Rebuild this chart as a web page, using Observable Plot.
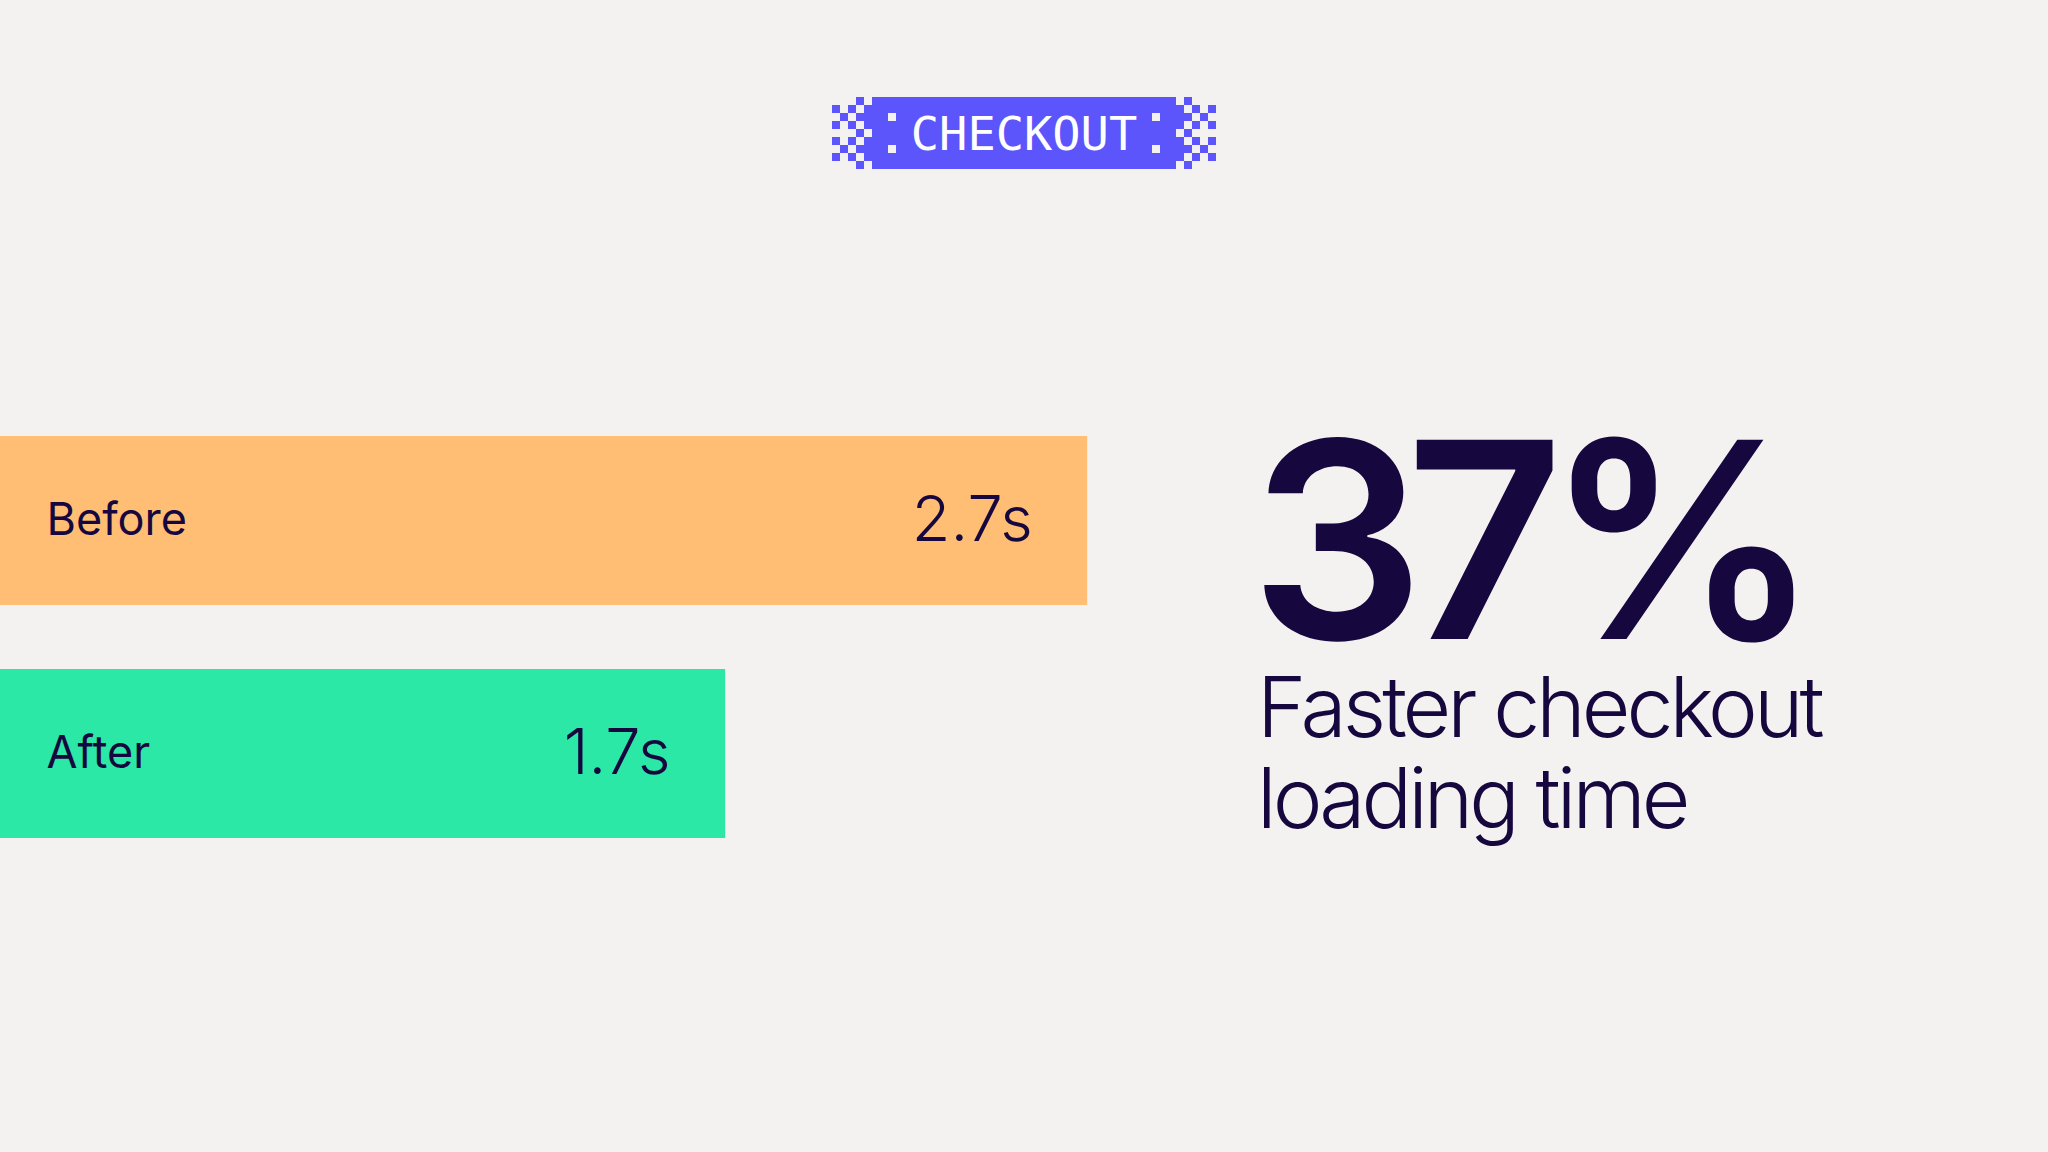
<!DOCTYPE html>
<html>
<head>
<meta charset="utf-8">
<script src="https://cdn.jsdelivr.net/npm/d3@7"></script>
<script src="https://cdn.jsdelivr.net/npm/@observablehq/plot@0.6"></script>
<style>
  html, body { margin: 0; padding: 0; background: #F4F2F0; }
  #stage { position: relative; width: 2048px; height: 1152px; overflow: hidden; background: #F4F2F0; }
  #chart { position: absolute; left: 0; top: 0; }
  #badge { position: absolute; left: 832px; top: 97px; }
  #headline { position: absolute; left: 1250px; top: 430px; font-family: Inter, sans-serif; font-weight: 600;
    font-size: 274px; line-height: 0.8; letter-spacing: -0.068em; color: #16073F; white-space: nowrap; }
  #subline { position: absolute; left: 1257px; top: 661px; font-family: Inter, sans-serif; font-weight: 300;
    font-size: 84px; line-height: 91px; letter-spacing: -0.047em; color: #16073F; white-space: nowrap; }
</style>
</head>
<body>
<div id="stage">
  <div id="chart"></div>
  <div id="badge"></div>
  <div id="headline"></div>
  <div id="subline"></div>
</div>
<script>
// ---- data ----
const categories = ["Before", "After"];
const values = [2.7, 1.7];
const valueLabels = ["2.7s", "1.7s"];
const barColors = ["#FFBE73", "#2BE8A7"];
const headline = "37%";
const sublineLines = ["Faster checkout", "loading time"];
const badgeText = "CHECKOUT";
// dither pattern of the badge's left edge (mirrored on the right); X = filled cell
const badgePattern = [
  "...X.X",
  "X.X.XX",
  ".X.XXX",
  "X.X.XX",
  "...X.X",
  "X.X.XX",
  ".X.XXX",
  "X.X.XX",
  "...X.X"
];
const badgeHoles = [[7, 2], [7, 6]]; // light cells inside the badge (col, row), mirrored

const ink = "#16073F";
const axisStart = -0.303;
const axisEnd = 5.354;

const data = categories.map((c, i) => ({label: c, value: values[i], display: valueLabels[i], color: barColors[i]}));

const chart = Plot.plot({
  width: 2048,
  height: 1152,
  marginLeft: 0,
  marginRight: 0,
  marginTop: 436,
  marginBottom: 314,
  x: {domain: [axisStart, axisEnd], axis: null},
  y: {domain: categories, axis: null, paddingInner: 0.275, paddingOuter: 0},
  color: {type: "identity"},
  style: {background: "transparent", fontFamily: "Inter, sans-serif"},
  marks: [
    Plot.barX(data, {x1: axisStart, x2: "value", y: "label", fill: "color"}),
    Plot.text(data, {x: axisStart, y: "label", text: "label", textAnchor: "start", dx: 46,
      fontSize: 45, fontWeight: 400, fill: ink}),
    Plot.text(data, {x: "value", y: "label", text: "display", textAnchor: "end", dx: -55,
      fontSize: 63, fontWeight: 300, fill: ink, letterSpacing: "-0.04em"})
  ]
});
document.getElementById("chart").appendChild(chart);

// ---- badge ----
const cell = 8, cols = 48, rows = badgePattern.length;
const bw = cols * cell, bh = rows * cell;
const purple = "#5B55FB", bg = "#F4F2F0";
const svg = d3.select("#badge").append("svg").attr("width", bw).attr("height", bh);
const edge = badgePattern[0].length - 1;
svg.append("rect").attr("x", edge * cell).attr("y", 0)
  .attr("width", (cols - 2 * edge) * cell).attr("height", bh).attr("fill", purple);
const cells = [];
badgePattern.forEach((row, r) => {
  row.split("").forEach((ch, c) => {
    if (ch === "X") { cells.push([c, r]); cells.push([cols - 1 - c, r]); }
  });
});
svg.selectAll("rect.px").data(cells).join("rect").attr("class", "px")
  .attr("x", d => d[0] * cell).attr("y", d => d[1] * cell)
  .attr("width", cell).attr("height", cell).attr("fill", purple);
const holes = badgeHoles.flatMap(([c, r]) => [[c, r], [cols - 1 - c, r]]);
svg.selectAll("rect.hole").data(holes).join("rect").attr("class", "hole")
  .attr("x", d => d[0] * cell).attr("y", d => d[1] * cell)
  .attr("width", cell).attr("height", cell).attr("fill", bg);
svg.append("text").attr("x", bw / 2).attr("y", bh / 2 + 17).attr("text-anchor", "middle")
  .attr("font-family", "'DejaVu Sans Mono', monospace").attr("font-size", 47)
  .attr("fill", "#FFFFFF").text(badgeText);

// ---- headline ----
document.getElementById("headline").textContent = headline;
document.getElementById("subline").innerHTML = sublineLines.map(s => `<div>${s}</div>`).join("");
</script>
</body>
</html>
